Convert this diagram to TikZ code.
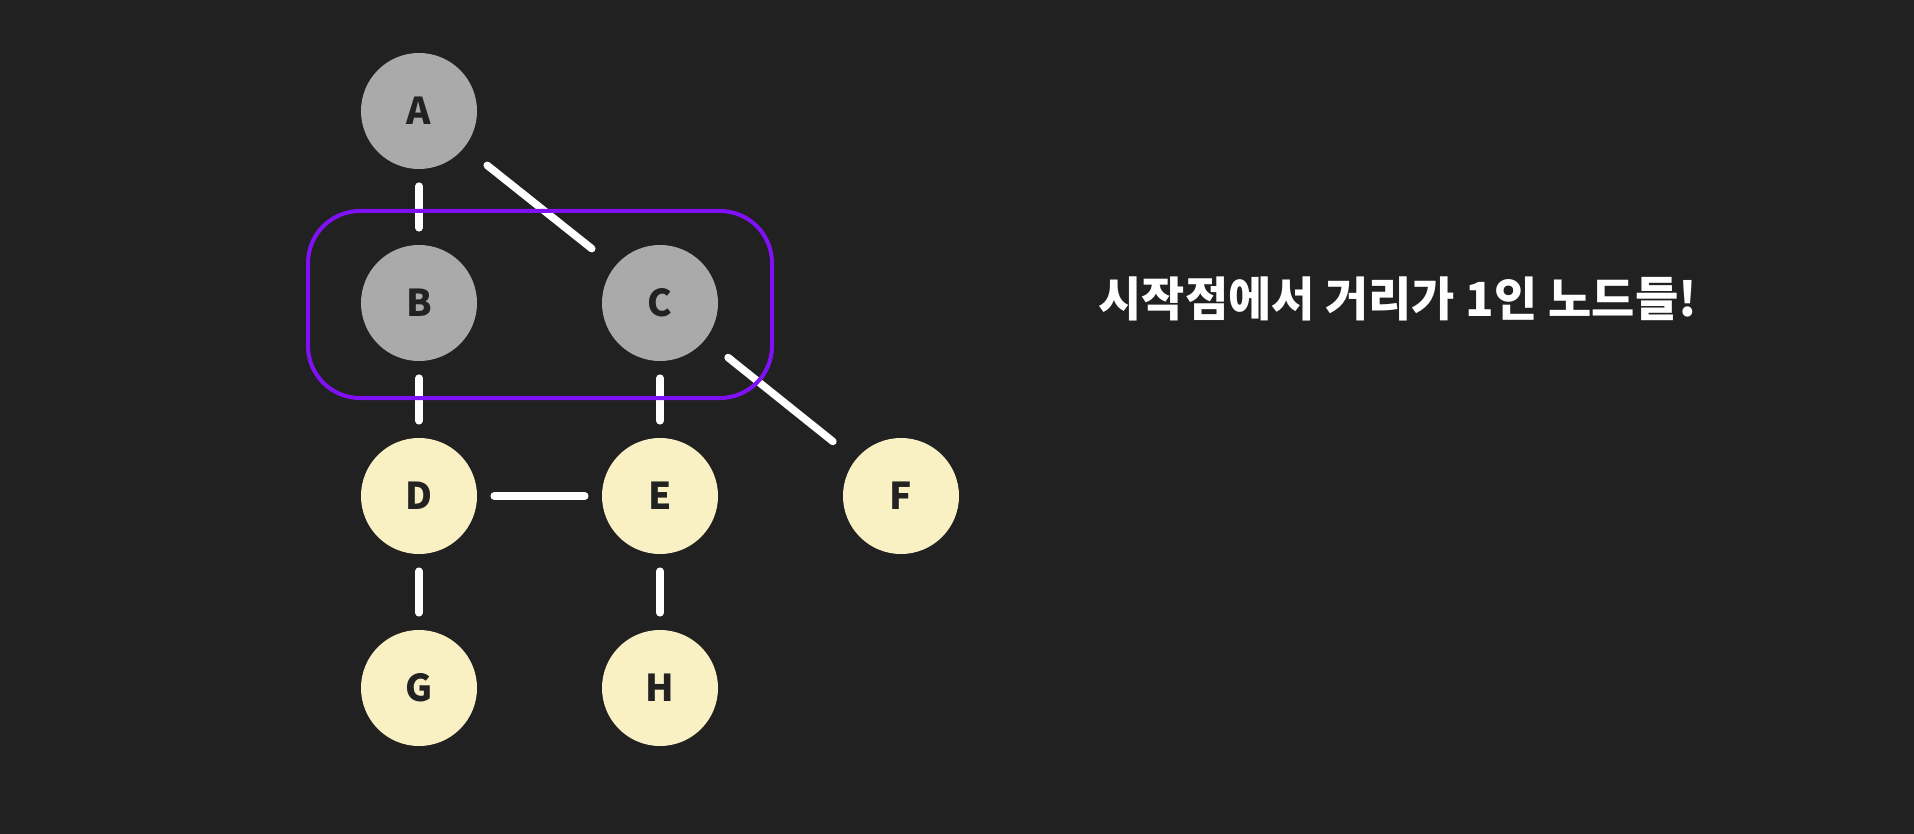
\documentclass[tikz,border=0pt]{standalone}
\usepackage{fontspec}
\newfontfamily\kr{Noto Sans CJK KR}
\definecolor{bg}{HTML}{212121}
\definecolor{visited}{HTML}{AAAAAA}
\definecolor{cream}{HTML}{F9F0C4}
\definecolor{violet}{HTML}{8010F5}
\definecolor{ink}{HTML}{222222}
\tikzset{
  vnode/.style={circle, fill=#1, minimum size=116pt, inner sep=0pt, text=ink,
    font=\kr\bfseries\fontsize{37}{42}\selectfont},
  edge/.style={draw=white, line width=7.5pt, line cap=round},
  straightedge/.style={edge, shorten <=17pt, shorten >=17pt},
  diagedge/.style={edge, shorten <=29pt, shorten >=29pt},
  groupbox/.style={draw=violet, line width=4pt, rounded corners=52pt},
}
\begin{document}
\begin{tikzpicture}[x=1pt, y=-1pt]
  \fill[bg] (0,0) rectangle (1914,834);
  \useasboundingbox (0,0) rectangle (1914,834);

  \node[vnode=visited] (A) at (419,111) {A};
  \node[vnode=visited] (B) at (419,303) {B};
  \node[vnode=visited] (C) at (660,303) {C};
  \node[vnode=cream] (D) at (419,496) {D};
  \node[vnode=cream] (E) at (660,496) {E};
  \node[vnode=cream] (F) at (901,496) {F};
  \node[vnode=cream] (G) at (419,688) {G};
  \node[vnode=cream] (H) at (660,688) {H};

  \draw[straightedge] (A) -- (B);
  \draw[diagedge] (A) -- (C);
  \draw[straightedge] (B) -- (D);
  \draw[straightedge] (C) -- (E);
  \draw[diagedge] (C) -- (F);
  \draw[straightedge] (D) -- (E);
  \draw[straightedge] (D) -- (G);
  \draw[straightedge] (E) -- (H);

  \draw[groupbox] (308,211) rectangle (772,398);

  \node[text=white, font=\kr\bfseries\fontsize{47}{54}\selectfont, anchor=west]
    (msg) at (1095,299) {시작점에서 거리가 1인 노드들!};
\end{tikzpicture}
\end{document}
